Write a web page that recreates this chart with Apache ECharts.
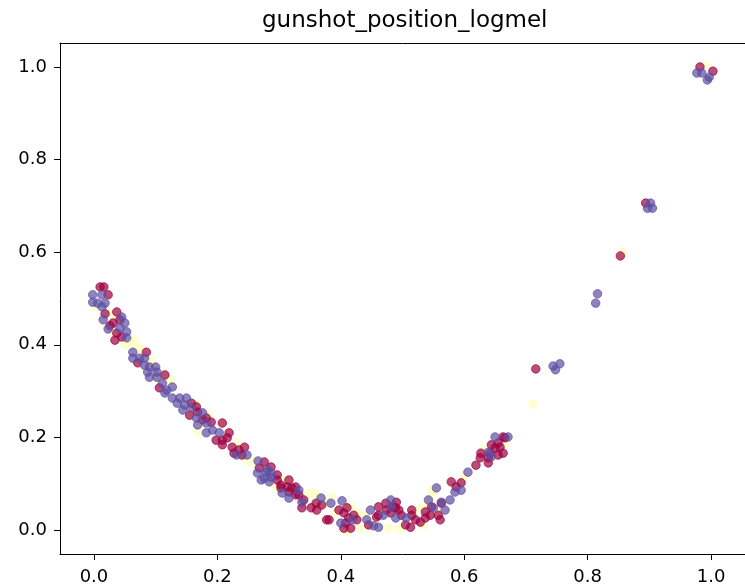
<!DOCTYPE html>
<html>
<head>
<meta charset="utf-8">
<script src="https://cdn.jsdelivr.net/npm/echarts@6/dist/echarts.min.js"></script>
<style>
html,body{margin:0;padding:0;background:#fff;}
#chart{width:745px;height:588px;}
</style>
</head>
<body>
<div id="chart"></div>
<script>
var chartTitle = 'gunshot_position_logmel';
var xTicks = [0, 0.2, 0.4, 0.6, 0.8, 1.0];
var yTicks = [0, 0.2, 0.4, 0.6, 0.8, 1.0];

// class 0 (Spectral low end, dark red)
var classRed = [
[0.010,0.525],[0.016,0.525],[0.023,0.508],[0.018,0.467],[0.037,0.471],[0.042,0.454],[0.031,0.447],[0.037,0.425],
[0.045,0.417],[0.034,0.410],[0.026,0.441],[0.085,0.384],[0.071,0.361],[0.115,0.335],[0.106,0.307],[0.158,0.274],
[0.166,0.266],[0.168,0.255],[0.155,0.248],[0.182,0.242],[0.190,0.233],[0.176,0.238],[0.208,0.231],[0.219,0.210],
[0.198,0.194],[0.208,0.194],[0.216,0.199],[0.208,0.184],[0.224,0.179],[0.235,0.173],[0.244,0.179],[0.240,0.162],
[0.227,0.166],[0.276,0.147],[0.268,0.134],[0.287,0.136],[0.297,0.119],[0.297,0.108],[0.303,0.097],[0.303,0.091],
[0.316,0.108],[0.313,0.093],[0.316,0.082],[0.321,0.091],[0.327,0.076],[0.327,0.093],[0.332,0.076],[0.340,0.065],
[0.337,0.048],[0.352,0.048],[0.360,0.058],[0.361,0.043],[0.377,0.022],[0.397,0.043],[0.405,0.037],[0.410,0.048],
[0.413,0.026],[0.421,0.032],[0.408,0.015],[0.416,0.004],[0.405,0.004],[0.458,0.028],[0.461,0.050],[0.473,0.058],
[0.474,0.043],[0.481,0.037],[0.485,0.050],[0.494,0.043],[0.490,0.060],[0.498,0.032],[0.515,0.032],[0.521,0.022],
[0.513,0.006],[0.529,0.017],[0.537,0.026],[0.545,0.032],[0.547,0.050],[0.558,0.032],[0.561,0.022],[0.563,0.058],
[0.579,0.104],[0.587,0.093],[0.595,0.102],[0.619,0.140],[0.626,0.156],[0.639,0.156],[0.627,0.166],[0.642,0.166],
[0.650,0.177],[0.658,0.179],[0.663,0.166],[0.655,0.162],[0.644,0.184],[0.666,0.199],[0.663,0.201],[0.655,0.188],
[0.639,0.145],[0.369,0.054],[0.381,0.022],[0.426,0.022],[0.445,0.011],[0.461,0.032],[0.489,0.048],[0.505,0.011],
[0.515,0.043],[0.537,0.039],[0.716,0.348],[0.853,0.592],[0.894,0.706],[0.982,1.000],[1.003,0.991]
];

// class 1 (Spectral middle, pale yellow)
var classYellow = [
[0.002,0.482],[0.031,0.464],[0.034,0.425],[0.066,0.410],[0.050,0.400],[0.069,0.395],[0.077,0.389],[0.090,0.367],
[0.103,0.324],[0.126,0.320],[0.155,0.255],[0.168,0.212],[0.208,0.231],[0.231,0.188],[0.240,0.158],[0.252,0.147],
[0.292,0.097],[0.311,0.108],[0.300,0.086],[0.345,0.076],[0.360,0.076],[0.377,0.058],[0.392,0.037],[0.429,0.037],
[0.432,0.004],[0.477,0.004],[0.497,0.004],[0.534,0.011],[0.550,0.082],[0.558,0.037],[0.547,0.086],[0.631,0.173],
[0.668,0.188],[0.711,0.272],[0.856,0.600],[0.989,1.004],[0.416,0.050],[0.440,0.032],[0.521,0.043],[0.534,0.050],
[0.410,-0.004],[0.166,0.270],[0.095,0.360],[0.123,0.325],[0.353,0.080],[0.385,0.071],[0.360,0.054],[0.408,0.048],
[0.020,0.470],[0.058,0.405],[0.110,0.330],[0.185,0.245],[0.260,0.150],[0.455,0.020],[0.545,0.068],[0.600,0.115]
];

// class 2 (Spectral high end, purple)
var classPurple = [
[-0.002,0.508],[0.013,0.508],[-0.002,0.492],[0.006,0.490],[0.018,0.490],[0.013,0.482],[0.015,0.454],[0.045,0.460],
[0.050,0.447],[0.042,0.436],[0.023,0.434],[0.053,0.428],[0.053,0.415],[0.063,0.384],[0.063,0.371],[0.074,0.371],
[0.082,0.371],[0.082,0.356],[0.090,0.352],[0.100,0.352],[0.087,0.341],[0.102,0.341],[0.090,0.330],[0.102,0.330],
[0.111,0.317],[0.118,0.302],[0.127,0.309],[0.115,0.296],[0.127,0.285],[0.139,0.285],[0.150,0.285],[0.135,0.274],
[0.147,0.270],[0.144,0.259],[0.158,0.264],[0.176,0.253],[0.166,0.242],[0.182,0.231],[0.168,0.227],[0.182,0.210],
[0.192,0.216],[0.203,0.210],[0.231,0.162],[0.248,0.162],[0.266,0.149],[0.265,0.123],[0.279,0.125],[0.287,0.123],
[0.271,0.108],[0.284,0.104],[0.281,0.130],[0.287,0.114],[0.276,0.112],[0.305,0.080],[0.316,0.069],[0.332,0.086],
[0.337,0.060],[0.368,0.069],[0.384,0.058],[0.402,0.063],[0.400,0.015],[0.418,0.022],[0.448,0.043],[0.442,0.022],
[0.453,0.009],[0.461,0.006],[0.469,0.032],[0.481,0.065],[0.482,0.050],[0.489,0.026],[0.506,0.026],[0.542,0.065],
[0.555,0.091],[0.563,0.060],[0.569,0.043],[0.577,0.065],[0.585,0.082],[0.595,0.086],[0.606,0.125],[0.639,0.168],
[0.650,0.201],[0.671,0.201],[0.644,0.158],[0.550,0.048],[0.744,0.354],[0.755,0.359],[0.748,0.346],[0.813,0.490],
[0.816,0.510],[0.902,0.706],[0.897,0.695],[0.905,0.695],[0.977,0.987],[0.985,0.987],[0.997,0.978],[0.994,0.972]
];

var FONT = 'DejaVu Sans';
function fmt(v){ return Number(v).toFixed(1); }
function mkSeries(name, data, color){
  return {
    name: name, type: 'scatter', data: data, symbol: 'circle', symbolSize: 8.5,
    itemStyle: { color: color, opacity: 0.7, borderColor: color, borderWidth: 1 },
    emphasis: { disabled: true }, silent: true
  };
}
var chart = echarts.init(document.getElementById('chart'), null, {renderer: 'canvas'});
chart.setOption({
  animation: false,
  backgroundColor: '#fff',
  title: {
    text: chartTitle, left: 262, top: 10, padding: 0,
    textStyle: { fontFamily: FONT, fontSize: 23, fontWeight: 'normal', color: '#000' }
  },
  grid: { left: 60, top: 43, right: -3, bottom: 34, show: false, containLabel: false },
  xAxis: [{
    type: 'value', min: -0.055, max: 1.055,
    splitLine: { show: false },
    axisLine: { show: true, onZero: false, lineStyle: { color: '#000', width: 1 } },
    axisTick: { show: true, length: 6, customValues: xTicks, lineStyle: { color: '#000', width: 1 } },
    axisLabel: { customValues: xTicks, formatter: fmt, fontFamily: FONT, fontSize: 18, color: '#000', margin: 14 }
  }, {
    type: 'value', position: 'top', min: -0.055, max: 1.055,
    splitLine: { show: false },
    axisLine: { show: true, onZero: false, lineStyle: { color: '#000', width: 1 } },
    axisTick: { show: false }, axisLabel: { show: false }
  }],
  yAxis: {
    type: 'value', min: -0.0518, max: 1.0518,
    splitLine: { show: false },
    axisLine: { show: true, onZero: false, lineStyle: { color: '#000', width: 1 } },
    axisTick: { show: true, length: 6, customValues: yTicks, lineStyle: { color: '#000', width: 1 } },
    axisLabel: { customValues: yTicks, formatter: fmt, fontFamily: FONT, fontSize: 18, color: '#000', margin: 13 }
  },
  series: [
    mkSeries('class 1', classYellow, '#ffffbf'),
    mkSeries('class 0', classRed, '#9e0142'),
    mkSeries('class 2', classPurple, '#5e4fa2')
  ]
});
</script>
</body>
</html>
